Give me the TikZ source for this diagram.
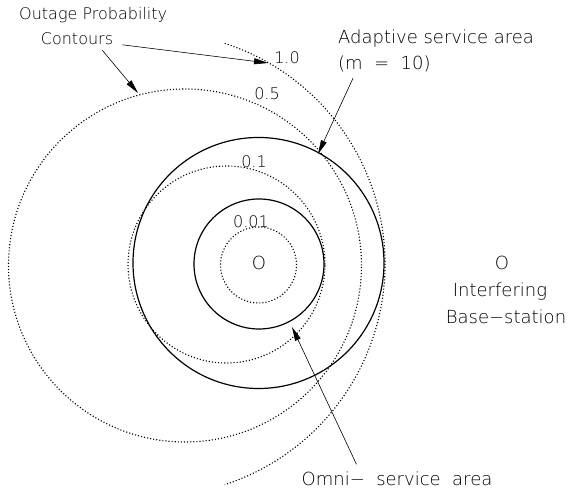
\documentclass[tikz,border=0pt]{standalone}
\usepackage{fontspec}
\setmainfont{DejaVu Sans}[UprightFont={* ExtraLight}]
\usetikzlibrary{arrows.meta,positioning}

\tikzset{
  contour/.style={line width=1.1pt, dash pattern=on 1.1pt off 2pt},
  area/.style={line width=1.2pt},
  pointer/.style={line width=0.6pt, -{Triangle[length=14pt,width=6pt]}},
  bigtext/.style={font=\fontsize{18}{21}\selectfont, inner sep=0pt},
  smalltext/.style={font=\fontsize{16}{19}\selectfont, inner sep=0pt},
}

\begin{document}
\begin{tikzpicture}[x=1pt, y=1pt]
    \useasboundingbox (0,0) rectangle (570,494);

    \coordinate (C10) at (153, 230);
    \coordinate (C05) at (185, 228.5);
    \coordinate (C01) at (226.5, 229.5);
    \coordinate (C001) at (258.5, 229);
    \coordinate (Cad) at (258.5, 231);
    \coordinate (Com) at (259, 230);

    % outage contours
    \draw[contour] (C10) ++(72:232pt) arc[start angle=72, end angle=-72, radius=232pt];
    \draw[contour] (C05) circle (176.5pt);
    \draw[contour] (C01) circle (98.5pt);
    \draw[contour] (C001) circle (38pt);

    % service areas
    \draw[area] (Cad) circle (125.5pt);
    \draw[area] (Com) circle (65pt);

    \node[smalltext, anchor=west](outage) at (19, 479) {Outage Probability};
    \node[smalltext](contours) at (77, 455) {Contours};
    \node[smalltext](lab10) at (287, 436) {1.0};
    \node[smalltext](lab05) at (267, 400) {0.5};
    \node[smalltext](lab01) at (254, 332) {0.1};
    \node[smalltext](lab001) at (251, 272) {0.01};

    \node[bigtext](home) at (259, 231) {O};
    \node[bigtext](bs) at (502, 231) {O};
    \node[bigtext](interf) at (500, 202) {Interfering};
    \node[bigtext](basest) at (506, 177) {Base−station};

    \node[bigtext, anchor=west](adapt) at (338, 455) {Adaptive service area};
    \node[bigtext, anchor=west](mval) at (338, 430) {(m\ \ =\ \ 10)};
    \node[bigtext](omni) at (397, 15) {Omni−\ \ service\ \ area};

    \coordinate (tip10) at (268, 431);
    \coordinate (tip05) at (138, 401);
    \coordinate (tipad) at (318, 340);
    \coordinate (tipom) at (292, 167);

    \path[pointer] ([xshift=9pt]contours.base east) edge (tip10);
    \path[pointer] ([xshift=-11pt, yshift=-5pt]contours.south east) edge (tip05);
    \path[pointer] ([xshift=15pt, yshift=-6pt]mval.south west) edge (tipad);
    \path[pointer] ([xshift=55pt, yshift=7.5pt]omni.north west) edge (tipom);
\end{tikzpicture}
\end{document}
